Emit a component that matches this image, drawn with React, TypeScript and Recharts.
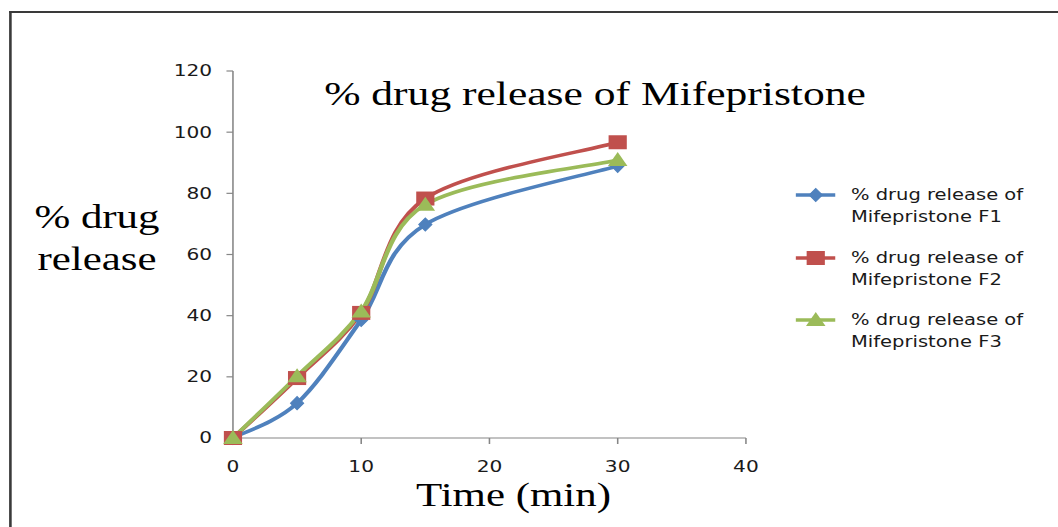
import React from 'react';
import { LineChart, Line, XAxis, YAxis, Legend, Label } from 'recharts';

// ---- data ----
const timeMin = [0, 5, 10, 15, 30];
const releaseF1 = [0, 11.4, 38.6, 69.8, 89];
const releaseF2 = [0, 19.6, 40.9, 78.3, 96.7];
const releaseF3 = [0, 20.2, 41.4, 76.3, 90.9];
const yTicks = [0, 20, 40, 60, 80, 100, 120];
const xTicks = [0, 10, 20, 30, 40];
const seriesNames = [
  ['% drug release of', 'Mifepristone F1'],
  ['% drug release of', 'Mifepristone F2'],
  ['% drug release of', 'Mifepristone F3'],
];

const data = timeMin.map((t, i) => ({ time: t, f1: releaseF1[i], f2: releaseF2[i], f3: releaseF3[i] }));

const series = [
  { key: 'f1', color: '#4F81BD', shape: 'diamond', label: seriesNames[0] },
  { key: 'f2', color: '#C0504D', shape: 'square', label: seriesNames[1] },
  { key: 'f3', color: '#9BBB59', shape: 'triangle', label: seriesNames[2] },
];

// Excel-like smoothing (Catmull-Rom bezier)
function excelCurve(context: any) {
  let pts: number[][] = [];
  return {
    areaStart() {},
    areaEnd() {},
    lineStart() { pts = []; },
    point(x: number, y: number) { pts.push([+x, +y]); },
    lineEnd() {
      if (!pts.length) return;
      context.moveTo(pts[0][0], pts[0][1]);
      for (let i = 0; i < pts.length - 1; i++) {
        const p0 = pts[i - 1] || pts[i];
        const p1 = pts[i];
        const p2 = pts[i + 1];
        const p3 = pts[i + 2] || pts[i + 1];
        const c1x = p1[0] + (p2[0] - p0[0]) / 6;
        const c1y = p1[1] + (p2[1] - p0[1]) / 6;
        const c2x = p2[0] - (p3[0] - p1[0]) / 6;
        const c2y = p2[1] - (p3[1] - p1[1]) / 6;
        context.bezierCurveTo(c1x, c1y, c2x, c2y, p2[0], p2[1]);
      }
    },
  };
}

function Marker({ shape, color, cx, cy }: any) {
  if (cx == null || cy == null) return null;
  if (shape === 'diamond') {
    return <path d={`M${cx},${cy - 6.5}L${cx + 5},${cy}L${cx},${cy + 6.5}L${cx - 5},${cy}Z`} fill={color} stroke={color} strokeWidth={1} />;
  }
  if (shape === 'square') {
    return <rect x={cx - 7} y={cy - 7} width={14} height={14} fill={color} />;
  }
  return <path d={`M${cx},${cy - 8}L${cx + 7.5},${cy + 6}L${cx - 7.5},${cy + 6}Z`} fill={color} />;
}

const W = 814;
const H = 527;
const SX = 1.3;
const tickStyle = { fontSize: 15.5, fill: '#1a1a1a', fontFamily: 'DejaVu Sans, Verdana, sans-serif' };
const serif = 'Liberation Serif, Times New Roman, serif';

function LegendContent() {
  return (
    <div>
      {series.map((s) => (
        <div key={s.key} style={{ position: 'relative', height: 62.5 }}>
          <svg width={40} height={22} style={{ position: 'absolute', left: 6.5, top: 0 }}>
            <line x1={0} x2={30.5} y1={11} y2={11} stroke={s.color} strokeWidth={3.5} />
            <Marker shape={s.shape} color={s.color} cx={15.5} cy={11} />
          </svg>
          <div
            style={{
              position: 'absolute',
              left: 49.6,
              top: 0,
              fontFamily: 'DejaVu Sans, Verdana, sans-serif',
              fontSize: 15,
              lineHeight: '22px',
              color: '#1a1a1a',
              whiteSpace: 'nowrap',
            }}
          >
            {s.label[0]}
            <br />
            {s.label[1]}
          </div>
        </div>
      ))}
    </div>
  );
}

export default function App() {
  return (
    <div style={{ position: 'absolute', left: 0, top: 0, width: 1058, height: 527, overflow: 'hidden', background: '#fff' }}>
      <div style={{ position: 'absolute', left: 0, top: 0, width: W, height: H, transform: `scaleX(${SX})`, transformOrigin: '0 0' }}>
        <div
          style={{
            position: 'absolute',
            left: 7,
            top: 10.5,
            width: W,
            height: H,
            borderLeft: '2px solid #3a3a3a',
            borderTop: '2.5px solid #3a3a3a',
            boxSizing: 'border-box',
          }}
        />
        <LineChart
          width={W}
          height={H}
          data={data}
          margin={{ top: 71, right: 240.2, bottom: 29, left: 0 }}
          style={{ position: 'absolute', left: 0, top: 0 }}
        >
          <XAxis
            dataKey="time"
            type="number"
            domain={[0, 40]}
            ticks={xTicks}
            height={60}
            tickSize={6}
            tickMargin={17}
            stroke="#868686"
            tick={tickStyle}
            axisLine={{ stroke: '#868686', strokeWidth: 1.2 }}
            tickLine={{ stroke: '#868686', strokeWidth: 1.2 }}
          >
            <Label
              content={() => (
                <text x={395} y={506} textAnchor="middle" fontFamily={serif} fontSize={33} fill="#000">
                  Time (min)
                </text>
              )}
            />
          </XAxis>
          <YAxis
            type="number"
            domain={[0, 120]}
            ticks={yTicks}
            width={179.2}
            tickSize={5}
            tickMargin={11}
            stroke="#868686"
            tick={tickStyle}
            axisLine={{ stroke: '#868686', strokeWidth: 1.2 }}
            tickLine={{ stroke: '#868686', strokeWidth: 1.2 }}
          >
            <Label
              content={() => (
                <text textAnchor="middle" fontFamily={serif} fontSize={33} fill="#000">
                  <tspan x={74.6} y={228}>% drug</tspan>
                  <tspan x={74.6} y={270}>release</tspan>
                </text>
              )}
            />
            <Label
              content={() => (
                <text x={457.7} y={105} textAnchor="middle" fontFamily={serif} fontSize={33.5} fill="#000">
                  % drug release of Mifepristone
                </text>
              )}
            />
          </YAxis>
          <Legend
            layout="vertical"
            align="center"
            verticalAlign="middle"
            wrapperStyle={{ position: 'absolute', left: 605, top: 184, width: 200, height: 190 }}
            content={() => <LegendContent />}
          />
          {series.map((s) => (
            <Line
              key={s.key}
              dataKey={s.key}
              type={excelCurve as any}
              stroke={s.color}
              strokeWidth={3.5}
              isAnimationActive={false}
              dot={(p: any) => <Marker key={`${s.key}-${p.index}`} shape={s.shape} color={s.color} cx={p.cx} cy={p.cy} />}
              activeDot={false}
            />
          ))}
        </LineChart>
      </div>
    </div>
  );
}
